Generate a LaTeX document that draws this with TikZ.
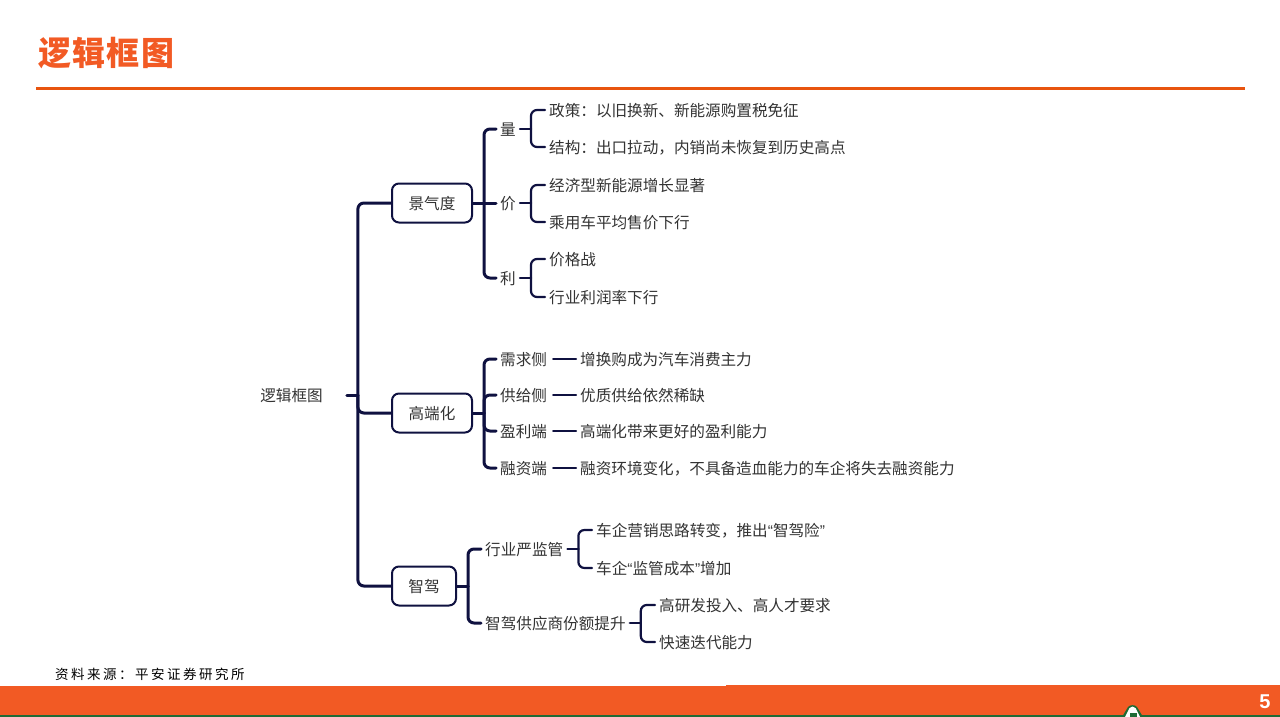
\documentclass[tikz,border=0pt]{standalone}
\usepackage{fontspec}
\setmainfont{Noto Sans CJK SC}
\newfontfamily\latn{Liberation Sans}
\newfontfamily\spaced[LetterSpace=18.5]{Noto Sans CJK SC}
\newcommand{\qo}{{\latn “}}
\newcommand{\qc}{{\latn ”}}
\definecolor{ink}{HTML}{0F1140}
\definecolor{txt}{HTML}{333333}
\definecolor{brand}{HTML}{F25A24}
\definecolor{rulec}{HTML}{E8540F}
\definecolor{leaf}{HTML}{1F6B35}
\tikzset{
  x=1pt,y=-1pt,
  label/.style={anchor=west,inner ysep=0pt,inner xsep=4pt,text=txt,text height=15pt,text depth=2pt,font=\fontsize{15.6pt}{18pt}\selectfont},
  box/.style={draw=ink,line width=2pt,rounded corners=7pt,minimum height=39pt,inner sep=0pt,text=txt,text height=15pt,text depth=2pt,font=\fontsize{15.6pt}{18pt}\selectfont},
  conn/.style={draw=ink,line width=3pt,rounded corners=6pt,line cap=round},
  brk/.style={draw=ink,line width=2.2pt,rounded corners=6pt,line cap=round},
}
\begin{document}
\begin{tikzpicture}
\useasboundingbox (0,0) rectangle (1280,717);
\fill[white] (0,0) rectangle (1280,717);
% header
\node[anchor=west,inner sep=0pt,text=brand,font=\fontsize{33pt}{36pt}\selectfont\bfseries\addfontfeature{LetterSpace=4}] (title) at (38,53) {逻辑框图};
\coordinate (ruleL) at (36,88.5);
\coordinate (ruleR) at (1245,88.5);
\draw[rulec,line width=3pt] (ruleL) -- (ruleR);
% footer
\fill[brand] (0,686) rectangle (726,716);
\fill[brand] (726,685) rectangle (1280,716);
\fill[leaf] (0,715) rectangle (1280,717);
\fill[leaf] (1122,717) -- (1128,707) .. controls (1130,704.5) and (1135,704.5) .. (1137,707) -- (1143,717) -- cycle;
\fill[white] (1125,717) -- (1129.5,708) .. controls (1131,706) and (1134,706) .. (1135.5,708) -- (1140,717) -- cycle;
\fill[leaf] (1130,713) rectangle (1137,717);
\node[text=white,inner sep=0pt,font=\latn\bfseries\fontsize{20pt}{22pt}\selectfont] (pg) at (1265,702) {5};
\node[anchor=west,inner sep=0pt,text=black,font=\fontsize{13.5pt}{15pt}\selectfont] (src) at (55,674) {\spaced\fontsize{13.5pt}{15pt}\selectfont 资料来源：平安证券研究所};
% root and boxes
\node[label,anchor=center,inner xsep=24pt] (root) at (291.5,395) {逻辑框图};
\node[box,minimum width=80pt] (b1) at (432,203) {景气度};
\node[box,minimum width=80pt] (b2) at (432,413) {高端化};
\node[box,minimum width=64pt] (b3) at (424,586) {智驾};
% level 2
\node[label] (a1) at (496,129) {量};
\node[label] (a2) at (496,203) {价};
\node[label] (a3) at (496,278) {利};
\node[label] (c1) at (496,359) {需求侧};
\node[label] (c2) at (496,395) {供给侧};
\node[label] (c3) at (496,431) {盈利端};
\node[label] (c4) at (496,468) {融资端};
\node[label] (e1) at (481,549) {行业严监管};
\node[label] (e2) at (481,623) {智驾供应商份额提升};
% leaves
\node[label] (l1) at (545,110) {政策：以旧换新、新能源购置税免征};
\node[label] (l2) at (545,147) {结构：出口拉动，内销尚未恢复到历史高点};
\node[label] (l3) at (545,185) {经济型新能源增长显著};
\node[label] (l4) at (545,222) {乘用车平均售价下行};
\node[label] (l5) at (545,259) {价格战};
\node[label] (l6) at (545,297) {行业利润率下行};
\node[label] (d1) at (576,359) {增换购成为汽车消费主力};
\node[label] (d2) at (576,395) {优质供给依然稀缺};
\node[label] (d3) at (576,431) {高端化带来更好的盈利能力};
\node[label] (d4) at (576,468) {融资环境变化，不具备造血能力的车企将失去融资能力};
\node[label] (f1) at (592,530) {车企营销思路转变，推出\qo 智驾险\qc};
\node[label] (f2) at (592,568) {车企\qo 监管成本\qc 增加};
\node[label] (f3) at (655,605) {高研发投入、高人才要求};
\node[label] (f4) at (655,642) {快速迭代能力};
% root connectors
\draw[conn] (root.east) -- ++(11,0) coordinate (hub);
\draw[conn] (hub) |- (b1.west);
\draw[conn] (hub) |- (b2.west);
\draw[conn] (hub) |- (b3.west);
% box connectors
\draw[conn] (b1.east) -- ++(11,0) coordinate (h1);
\draw[conn] (h1) |- (a1.west);
\draw[conn] (h1) -- (a2.west);
\draw[conn] (h1) |- (a3.west);
\draw[conn] (b2.east) -- ++(11,0) coordinate (h2);
\foreach \t in {c1,c2,c3,c4} \draw[conn] (h2) |- (\t.west);
\draw[conn] (b3.east) -- ++(11,0) coordinate (h3);
\foreach \t in {e1,e2} \draw[conn] (h3) |- (\t.west);
% brackets
\foreach \p/\u/\v in {a1/l1/l2,a2/l3/l4,a3/l5/l6,e1/f1/f2,e2/f3/f4}{
  \draw[brk] (\p.east) -- ++(11,0) coordinate (k);
  \draw[brk] (k) |- (\u.west);
  \draw[brk] (k) |- (\v.west);
}
\foreach \p/\q in {c1/d1,c2/d2,c3/d3,c4/d4} \draw[brk,shorten <=2pt] (\p.east) -- (\q.west);
\end{tikzpicture}
\end{document}
